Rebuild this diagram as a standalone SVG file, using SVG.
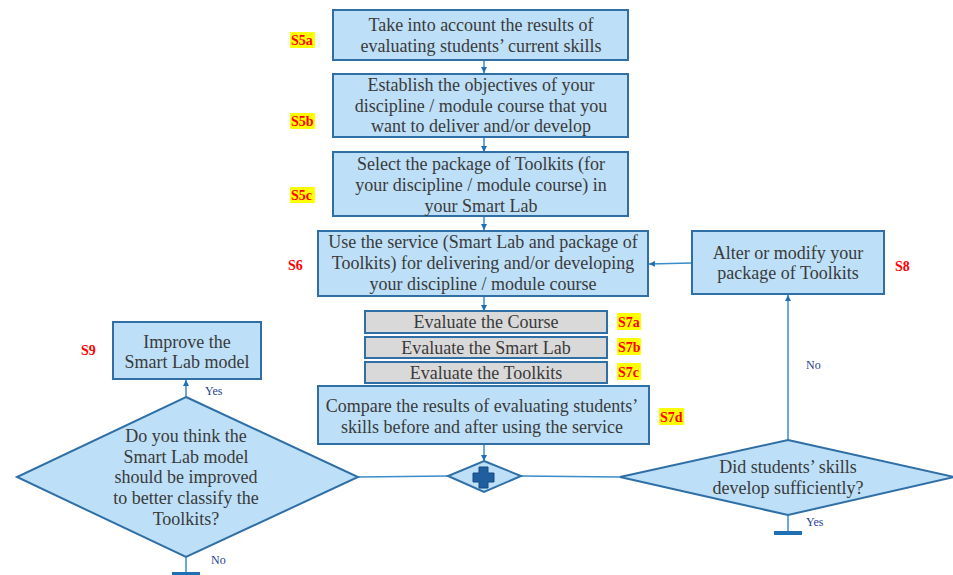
<svg xmlns="http://www.w3.org/2000/svg" width="953" height="575" viewBox="0 0 953 575">
<defs>
  <marker id="arr" viewBox="0 0 10 10" refX="10" refY="5" markerWidth="4" markerHeight="4" orient="auto">
    <path d="M0,0 L10,5 L0,10 z" fill="#1f6fb5"/>
  </marker>
  <style>
    .box { fill: #bde0f8; stroke: #2f6fa6; stroke-width: 2; }
    .grey { fill: #d9d9d9; stroke: #2f6fa6; stroke-width: 2; }
    .t { font-family: "Liberation Serif", "DejaVu Serif", serif; font-size: 18px; fill: #3a3a3a; text-anchor: middle; }
    .step { font-family: "Liberation Serif", serif; font-size: 14px; font-weight: bold; fill: #ff0000; }
    .hl { fill: #ffff00; }
    .yn { font-family: "Liberation Serif", serif; font-size: 12px; fill: #1f3f8f; }
    .ln { stroke: #3a8ccc; stroke-width: 1.5; fill: none; }
    .bar { stroke: #1f6fb5; stroke-width: 4; }
  </style>
</defs>
<rect width="953" height="575" fill="#ffffff"/>

<g id="connectors">
  <line class="ln" x1="484" y1="60" x2="484" y2="73" marker-end="url(#arr)"/>
  <line class="ln" x1="484" y1="137" x2="484" y2="152" marker-end="url(#arr)"/>
  <line class="ln" x1="484" y1="216" x2="484" y2="230" marker-end="url(#arr)"/>
  <line class="ln" x1="484" y1="297" x2="484" y2="311" marker-end="url(#arr)"/>
  <line class="ln" x1="484" y1="444" x2="484" y2="461" marker-end="url(#arr)"/>
  <line class="ln" x1="448" y1="476" x2="358" y2="477"/>
  <line class="ln" x1="521" y1="476" x2="620" y2="477"/>
  <line class="ln" x1="186" y1="397" x2="186" y2="380" marker-end="url(#arr)"/>
  <line class="ln" x1="186" y1="557" x2="186" y2="573"/>
  <line class="bar" x1="172" y1="574" x2="200" y2="574"/>
  <line class="ln" x1="788" y1="440" x2="788" y2="295" marker-end="url(#arr)"/>
  <line class="ln" x1="788" y1="515" x2="788" y2="533"/>
  <line class="bar" x1="774" y1="533" x2="802" y2="533"/>
  <line class="ln" x1="692" y1="263" x2="649" y2="264" marker-end="url(#arr)"/>
  <text class="yn" x="205" y="395">Yes</text>
  <text class="yn" x="211" y="564">No</text>
  <text class="yn" x="806" y="369">No</text>
  <text class="yn" x="806" y="526">Yes</text>
</g>

<g id="s5a">
  <rect class="box" x="333" y="10" width="295" height="50"/>
  <text class="t" x="481" y="31">Take into account the results of</text>
  <text class="t" x="481" y="52">evaluating students’ current skills</text>
  <rect class="hl" x="290" y="32" width="25" height="16"/>
  <text class="step" x="291" y="45">S5a</text>
</g>

<g id="s5b">
  <rect class="box" x="333" y="74" width="295" height="63"/>
  <text class="t" x="481" y="91">Establish the objectives of your</text>
  <text class="t" x="481" y="112">discipline / module course that you</text>
  <text class="t" x="481" y="132">want to deliver and/or develop</text>
  <rect class="hl" x="290" y="113" width="25" height="16"/>
  <text class="step" x="291" y="126">S5b</text>
</g>

<g id="s5c">
  <rect class="box" x="333" y="152" width="295" height="64"/>
  <text class="t" x="481" y="170">Select the package of Toolkits (for</text>
  <text class="t" x="481" y="191">your discipline / module course) in</text>
  <text class="t" x="481" y="212">your Smart Lab</text>
  <rect class="hl" x="290" y="187" width="25" height="16"/>
  <text class="step" x="291" y="200">S5c</text>
</g>

<g id="s6">
  <rect class="box" x="318" y="231" width="330" height="65"/>
  <text class="t" x="483" y="248">Use the service (Smart Lab and package of</text>
  <text class="t" x="483" y="269">Toolkits) for delivering and/or developing</text>
  <text class="t" x="483" y="290">your discipline / module course</text>
  <text class="step" x="288" y="270">S6</text>
</g>

<g id="s7a">
  <rect class="grey" x="365" y="311" width="242" height="22"/>
  <text class="t" x="486" y="328">Evaluate the Course</text>
  <rect class="hl" x="617" y="313" width="24" height="17"/>
  <text class="step" x="618" y="327">S7a</text>
</g>

<g id="s7b">
  <rect class="grey" x="365" y="337" width="242" height="21"/>
  <text class="t" x="486" y="354">Evaluate the Smart Lab</text>
  <rect class="hl" x="617" y="338" width="24" height="17"/>
  <text class="step" x="618" y="352">S7b</text>
</g>

<g id="s7c">
  <rect class="grey" x="365" y="362" width="242" height="21"/>
  <text class="t" x="486" y="379">Evaluate the Toolkits</text>
  <rect class="hl" x="617" y="363" width="24" height="17"/>
  <text class="step" x="618" y="377">S7c</text>
</g>

<g id="s7d">
  <rect class="box" x="318" y="386" width="331" height="58"/>
  <text class="t" x="482" y="412">Compare the results of evaluating students’</text>
  <text class="t" x="482" y="433">skills before and after using the service</text>
  <rect class="hl" x="659" y="408" width="25" height="17"/>
  <text class="step" x="660" y="422">S7d</text>
</g>

<g id="merge">
  <polygon class="box" points="484,461 521,476 484,492 448,476"/>
  <path d="M479,467 h9 v6 h6 v9 h-6 v6 h-9 v-6 h-6 v-9 h6 z" fill="#1f5fa0" stroke="#174a80" stroke-width="1"/>
</g>

<g id="s9">
  <rect class="box" x="113" y="322" width="148" height="57"/>
  <text class="t" x="187" y="348">Improve the</text>
  <text class="t" x="187" y="368">Smart Lab model</text>
  <text class="step" x="81" y="355">S9</text>
</g>

<g id="q-model">
  <polygon class="box" points="186,397 358,477 186,557 17,477"/>
  <text class="t" x="186" y="442">Do you think the</text>
  <text class="t" x="186" y="463">Smart Lab model</text>
  <text class="t" x="186" y="483">should be improved</text>
  <text class="t" x="186" y="504">to better classify the</text>
  <text class="t" x="186" y="525">Toolkits?</text>
</g>

<g id="s8">
  <rect class="box" x="692" y="231" width="192" height="63"/>
  <text class="t" x="788" y="259">Alter or modify your</text>
  <text class="t" x="788" y="279">package of Toolkits</text>
  <text class="step" x="895" y="271">S8</text>
</g>

<g id="q-skills">
  <polygon class="box" points="788,440 954,477 788,515 620,477"/>
  <text class="t" x="788" y="473">Did students’ skills</text>
  <text class="t" x="788" y="494">develop sufficiently?</text>
</g>
</svg>
